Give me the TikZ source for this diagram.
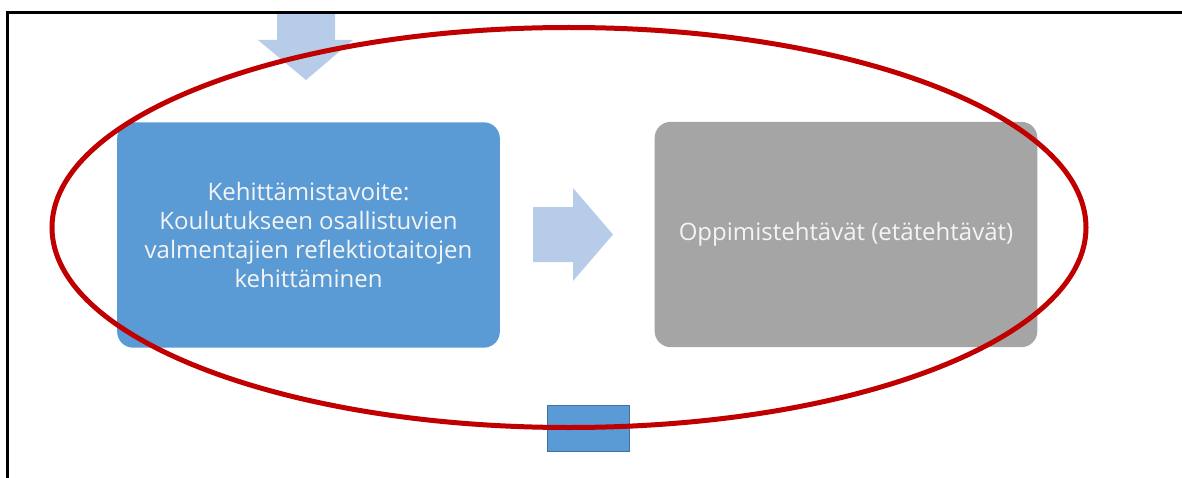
\documentclass[tikz,border=0pt]{standalone}
\usepackage{fontspec}
\setmainfont{Open Sans}
\definecolor{boxblue}{HTML}{5B9BD5}
\definecolor{boxgray}{HTML}{A5A5A5}
\definecolor{arrowblue}{HTML}{B6CCE8}
\definecolor{ringred}{HTML}{C00000}
\definecolor{edgeblue}{HTML}{41719C}
\definecolor{txtwhite}{HTML}{F4F4F4}
\begin{document}
\begin{tikzpicture}[x=0.75pt,y=-0.75pt,
  mainbox/.style={rounded corners=12pt, minimum width=287pt, minimum height=169pt,
    text=txtwhite, align=center, inner sep=0pt,
    font=\fontsize{18}{21.75}\selectfont},
  flowarrow/.style={fill=arrowblue, draw=none},
  ring/.style={draw=ringred, line width=3.75pt},
  frameline/.style={draw=black, line width=2.25pt}]
\useasboundingbox (0,0) rectangle (1182,478);
% top incoming arrow
\coordinate (topin) at (306,13);
\fill[flowarrow] (277,13) -- (335,13) -- (335,40) -- (353,40) -- (306,80) -- (258,40) -- (277,40) -- cycle;
% boxes
\node[mainbox, fill=boxblue] (goal) at (308.5,235) {Kehittämistavoite:\\Koulutukseen osallistuvien\\valmentajien reflektiotaitojen\\kehittäminen};
\node[mainbox, fill=boxgray] (tasks) at (846,234.5) {Oppimistehtävät (etätehtävät)};
% arrow between boxes
\fill[flowarrow] (533,207) -- (573,207) -- (573,188) -- (613,234.5) -- (573,281) -- (573,262) -- (533,262) -- cycle;
% bottom small rectangle
\node[draw=edgeblue, line width=0.6pt, fill=boxblue, minimum width=61.5pt, minimum height=35pt, inner sep=0pt] (next) at (588,428.5) {};
% red ellipse
\draw[ring] (569,227.5) ellipse [x radius=387.75pt, y radius=150pt];
% frame
\draw[frameline] (7,478) -- (7,13) -- (1182,13);
\end{tikzpicture}
\end{document}
